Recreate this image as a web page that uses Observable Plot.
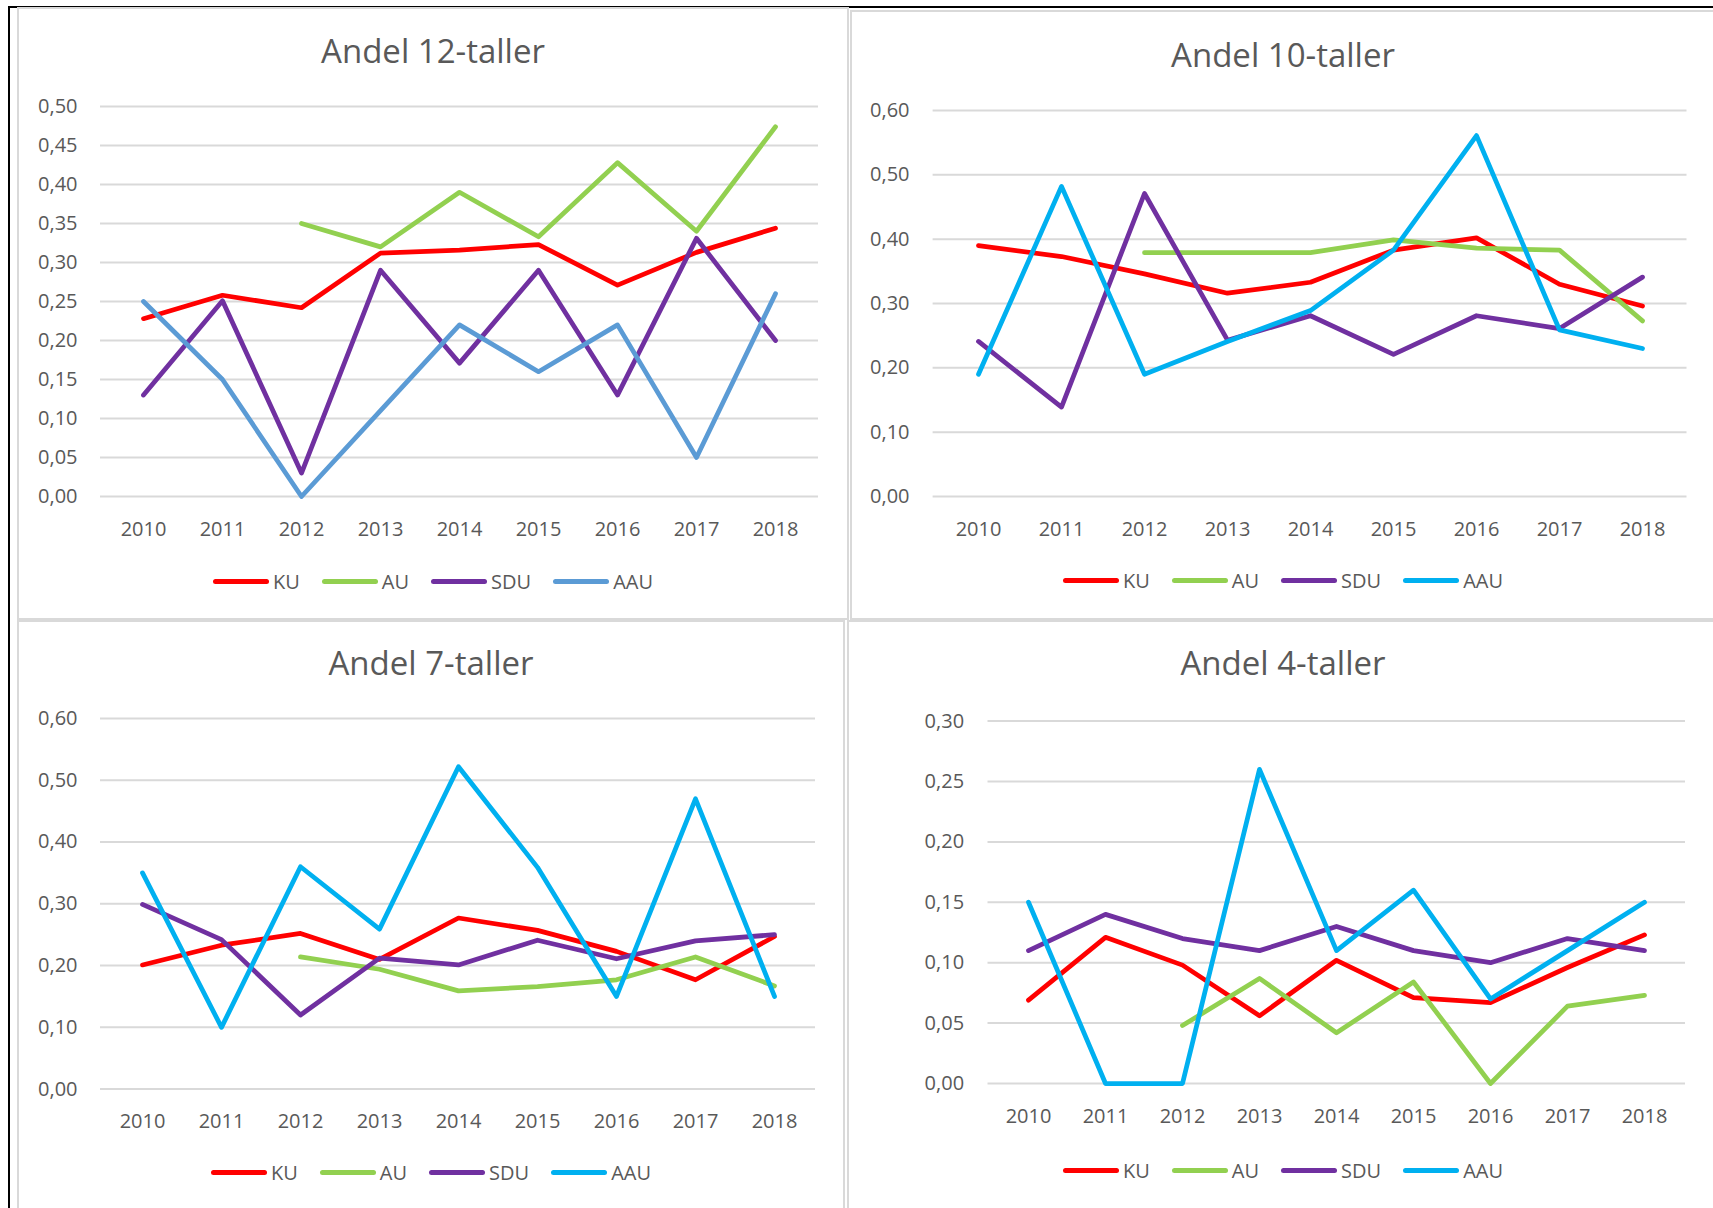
<!DOCTYPE html>
<html>
<head>
<meta charset="utf-8">
<script src="https://cdn.jsdelivr.net/npm/d3@7"></script>
<script src="https://cdn.jsdelivr.net/npm/@observablehq/plot@0.6"></script>
<style>
  html, body { margin: 0; padding: 0; background: #fff; }
  body { width: 1713px; height: 1208px; overflow: hidden; position: relative; font-family: "Open Sans", sans-serif; color: #595959; }
  .abs { position: absolute; }
  .panel { position: absolute; box-sizing: border-box; border: 2px solid #D9D9D9; background: #fff; }
  .title { position: absolute; text-align: center; font-size: 33px; line-height: 40px; color: #595959; }
  .legend { position: absolute; display: flex; justify-content: center; align-items: center; height: 30px; font-size: 20px; color: #595959; }
  .item { display: flex; align-items: center; margin: 0 11px; }
  .sw { width: 56px; height: 5px; border-radius: 3px; margin-right: 4px; }
</style>
</head>
<body>
<div class="abs" style="left:8px;top:6px;width:1705px;height:2px;background:#000"></div>
<div class="abs" style="left:8px;top:6px;width:2px;height:1202px;background:#000"></div>
<script>
// ---- Data ----
const years = ["2010","2011","2012","2013","2014","2015","2016","2017","2018"];
const seriesNames = ["KU","AU","SDU","AAU"];

const ku12  = [0.228,0.258,0.242,0.312,0.316,0.323,0.271,0.313,0.344];
const au12  = [null,null,0.350,0.320,0.390,0.333,0.428,0.340,0.474];
const sdu12 = [0.130,0.251,0.030,0.290,0.171,0.290,0.130,0.331,0.200];
const aau12 = [0.25,0.15,0.00,0.11,0.22,0.16,0.22,0.05,0.26];

const ku10  = [0.390,0.373,0.346,0.316,0.333,0.383,0.402,0.330,0.296];
const au10  = [null,null,0.379,0.379,0.379,0.399,0.386,0.383,0.273];
const sdu10 = [0.241,0.139,0.471,0.243,0.281,0.221,0.281,0.261,0.341];
const aau10 = [0.190,0.482,0.190,0.241,0.289,0.383,0.561,0.259,0.230];

const ku7   = [0.201,0.233,0.252,0.210,0.277,0.257,0.223,0.177,0.247];
const au7   = [null,null,0.214,0.194,0.159,0.166,0.177,0.214,0.167];
const sdu7  = [0.299,0.242,0.120,0.212,0.201,0.241,0.211,0.240,0.250];
const aau7  = [0.350,0.100,0.360,0.259,0.522,0.359,0.150,0.470,0.150];

const ku4   = [0.069,0.121,0.098,0.056,0.102,0.071,0.067,0.096,0.123];
const au4   = [null,null,0.048,0.087,0.042,0.084,0.000,0.064,0.073];
const sdu4  = [0.110,0.140,0.120,0.110,0.130,0.110,0.100,0.120,0.110];
const aau4  = [0.150,0.000,0.000,0.260,0.110,0.160,0.070,0.110,0.150];

const titles = ["Andel 12-taller","Andel 10-taller","Andel 7-taller","Andel 4-taller"];
const ticks12 = [0,0.05,0.10,0.15,0.20,0.25,0.30,0.35,0.40,0.45,0.50];
const ticks10 = [0,0.10,0.20,0.30,0.40,0.50,0.60];
const ticks7  = [0,0.10,0.20,0.30,0.40,0.50,0.60];
const ticks4  = [0,0.05,0.10,0.15,0.20,0.25,0.30];

const colorsA = ["#FF0000","#92D050","#7030A0","#5B9BD5"];
const colorsB = ["#FF0000","#92D050","#7030A0","#00B0F0"];

// ---- Layout (page coordinates) ----
const panels = [
  {box:{left:17,top:7,width:832,height:613}, x0:100, x1:818, yTop:106, yZero:496, labelRight:77, titleY:51, legendY:581,
   data:[ku12,au12,sdu12,aau12], ticks:ticks12, colors:colorsA, title:titles[0]},
  {box:{left:850,top:10,width:866,height:610}, x0:932.6, x1:1686.5, yTop:110, yZero:496, labelRight:909, titleY:55, legendY:580,
   data:[ku10,au10,sdu10,aau10], ticks:ticks10, colors:colorsB, title:titles[1]},
  {box:{left:17,top:620,width:828,height:600}, x0:100, x1:815, yTop:718, yZero:1088.6, labelRight:77, titleY:663, legendY:1172.5,
   data:[ku7,au7,sdu7,aau7], ticks:ticks7, colors:colorsB, title:titles[2]},
  {box:{left:847,top:620,width:872,height:600}, x0:987.5, x1:1685, yTop:720.6, yZero:1083, labelRight:963.6, titleY:663, legendY:1170.6,
   data:[ku4,au4,sdu4,aau4], ticks:ticks4, colors:colorsB, title:titles[3]}
];

const fmt = d => d.toFixed(2).replace(".", ",");

for (const p of panels) {
  const b = p.box;
  const panel = document.createElement("div");
  panel.className = "panel";
  Object.assign(panel.style, {left:b.left+"px", top:b.top+"px", width:b.width+"px", height:b.height+"px"});
  document.body.appendChild(panel);

  const rows = [];
  seriesNames.forEach((s, k) => {
    p.data[k].forEach((v, i) => { if (v !== null) rows.push({year: years[i], value: v, series: s}); });
  });

  const svg = Plot.plot({
    width: b.width,
    height: b.height,
    marginLeft: p.x0 - b.left,
    marginRight: b.left + b.width - p.x1,
    marginTop: p.yTop - b.top,
    marginBottom: b.top + b.height - p.yZero,
    style: {fontFamily: "'Open Sans', sans-serif", fontSize: "20px", color: "#595959", background: "transparent", overflow: "visible"},
    x: {type: "point", domain: years, padding: 0.5},
    y: {domain: [0, p.ticks[p.ticks.length - 1]]},
    color: {domain: seriesNames, range: p.colors},
    marks: [
      Plot.gridY(p.ticks, {stroke: "#D9D9D9", strokeOpacity: 1, strokeWidth: 2}),
      Plot.axisY(p.ticks, {tickSize: 0, tickPadding: p.x0 - p.labelRight, tickFormat: fmt, fontSize: 20, fill: "#595959", label: null}),
      Plot.axisX(years, {tickSize: 0, tickPadding: 25, fontSize: 20, fill: "#595959", label: null}),
      Plot.line(rows, {x: "year", y: "value", z: "series", stroke: "series", strokeWidth: 4.75, strokeLinecap: "round", strokeLinejoin: "round"})
    ]
  });
  svg.style.position = "absolute";
  svg.style.left = b.left + "px";
  svg.style.top = b.top + "px";
  document.body.appendChild(svg);

  const t = document.createElement("div");
  t.className = "title";
  t.textContent = p.title;
  Object.assign(t.style, {left:b.left+"px", width:b.width+"px", top:(p.titleY-20)+"px"});
  document.body.appendChild(t);

  const lg = document.createElement("div");
  lg.className = "legend";
  Object.assign(lg.style, {left:b.left+"px", width:b.width+"px", top:(p.legendY-15)+"px"});
  seriesNames.forEach((s, k) => {
    const it = document.createElement("div");
    it.className = "item";
    const sw = document.createElement("div");
    sw.className = "sw";
    sw.style.background = p.colors[k];
    const tx = document.createElement("span");
    tx.textContent = s;
    it.appendChild(sw); it.appendChild(tx);
    lg.appendChild(it);
  });
  document.body.appendChild(lg);
}
</script>
</body>
</html>
